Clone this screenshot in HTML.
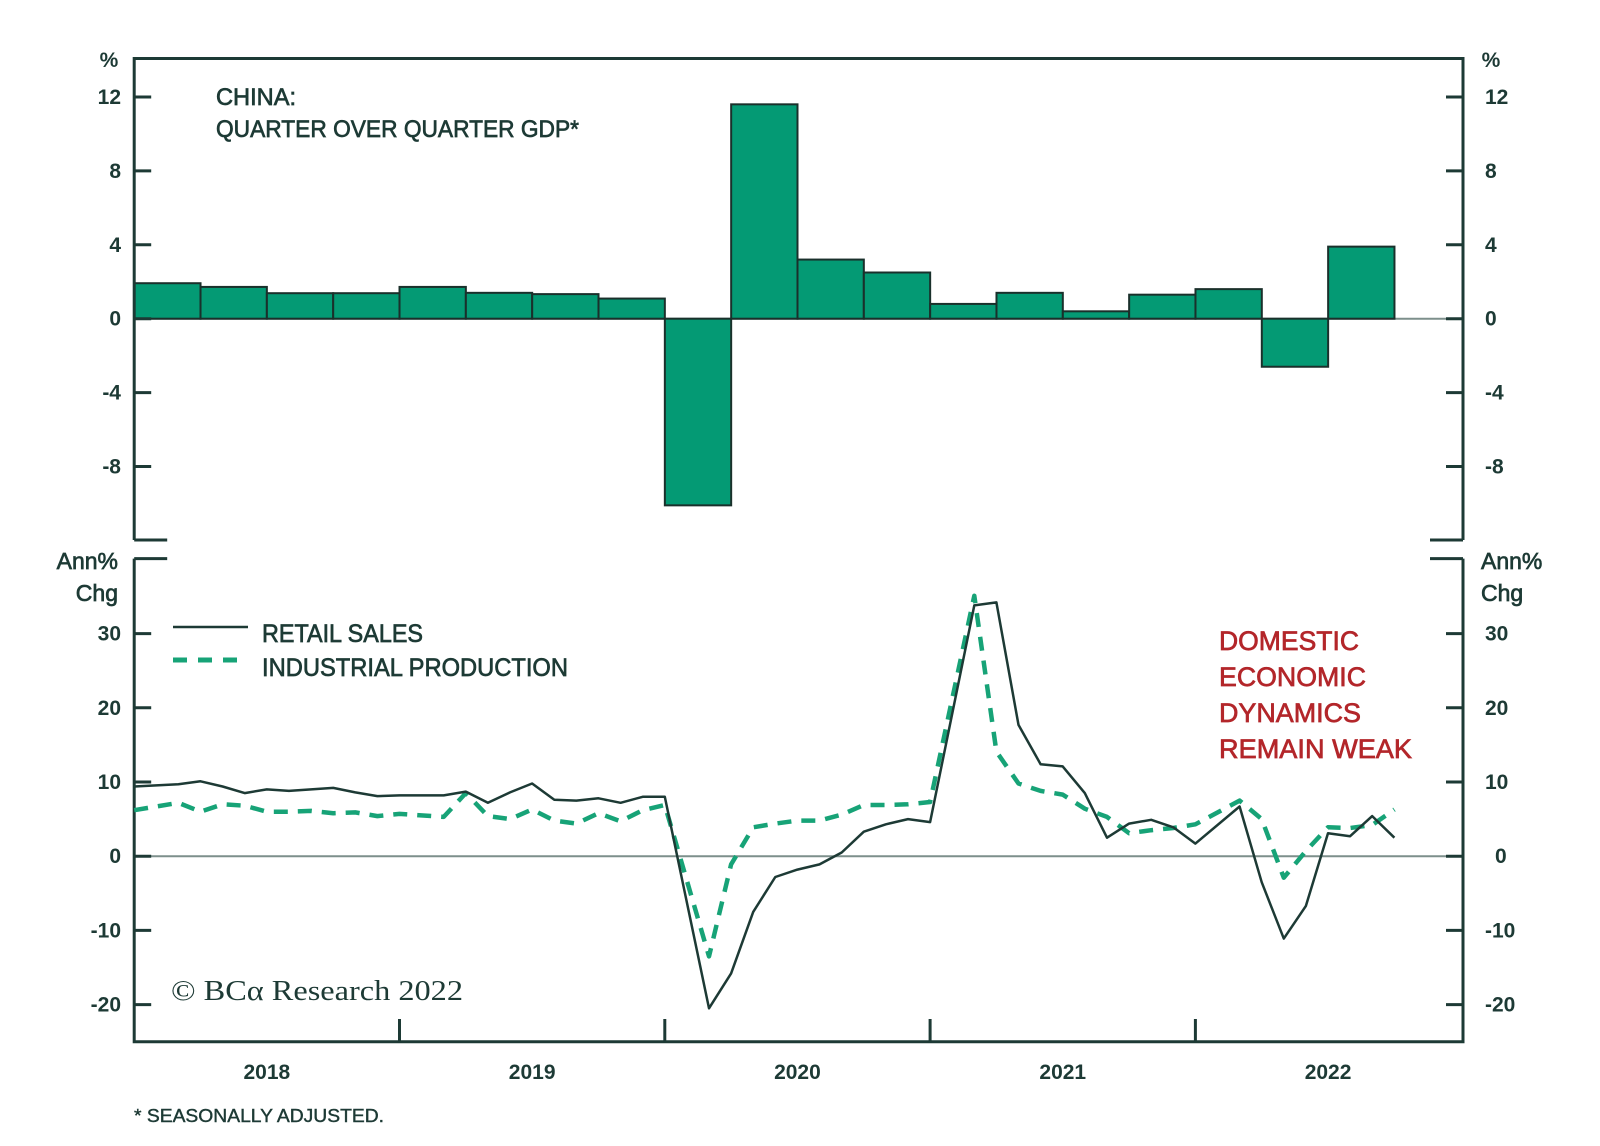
<!DOCTYPE html>
<html><head><meta charset="utf-8">
<style>
html,body{margin:0;padding:0;background:#fff;}
svg{display:block;}
text{font-family:"Liberation Sans",sans-serif;fill:#1d3a35;}
.t{font-size:21px;font-weight:bold;}
.m{stroke:#1d3a35;stroke-width:0.7;}
.r{fill:#b3262a;stroke:#b3262a;stroke-width:0.7;}
</style></head>
<body>
<svg id="s" width="1600" height="1146" viewBox="0 0 1600 1146" xmlns="http://www.w3.org/2000/svg">
<g id="g"></g>
<text x="109" y="67" class="t" text-anchor="middle">%</text>
<text x="1491" y="67" class="t" text-anchor="middle">%</text>
<text x="216" y="105" font-size="24" class="m" textLength="80" lengthAdjust="spacingAndGlyphs">CHINA:</text>
<text x="216" y="137" font-size="24" class="m" textLength="363" lengthAdjust="spacingAndGlyphs">QUARTER OVER QUARTER GDP*</text>
<text x="118" y="569" font-size="23" class="m" text-anchor="end">Ann%</text>
<text x="118" y="601" font-size="23" class="m" text-anchor="end">Chg</text>
<text x="1481" y="569" font-size="23" class="m">Ann%</text>
<text x="1481" y="601" font-size="23" class="m">Chg</text>
<line x1="173" y1="627" x2="248" y2="627" stroke="#1d3a35" stroke-width="2.5"/>
<line x1="173" y1="660" x2="248" y2="660" stroke="#17a377" stroke-width="5" stroke-dasharray="14,11"/>
<text x="262" y="642" font-size="25" class="m" textLength="161" lengthAdjust="spacingAndGlyphs">RETAIL SALES</text>
<text x="262" y="676" font-size="25" class="m" textLength="306" lengthAdjust="spacingAndGlyphs">INDUSTRIAL PRODUCTION</text>
<g font-size="27">
<text x="1219" y="650" class="r" textLength="140" lengthAdjust="spacingAndGlyphs">DOMESTIC</text>
<text x="1219" y="686" class="r" textLength="147" lengthAdjust="spacingAndGlyphs">ECONOMIC</text>
<text x="1219" y="722" class="r" textLength="142" lengthAdjust="spacingAndGlyphs">DYNAMICS</text>
<text x="1219" y="758" class="r" textLength="193" lengthAdjust="spacingAndGlyphs">REMAIN WEAK</text>
</g>
<text x="171" y="1000" font-size="28" style="font-family:'Liberation Serif',serif" textLength="292" lengthAdjust="spacingAndGlyphs">© BCα Research 2022</text>
<text x="134" y="1122" font-size="18" class="m" style="stroke-width:0.4" textLength="250" lengthAdjust="spacingAndGlyphs">* SEASONALLY ADJUSTED.</text>
</svg>
<script>
var NS="http://www.w3.org/2000/svg",g=document.getElementById("g");
function el(n,a,txt){var e=document.createElementNS(NS,n);for(var k in a)e.setAttribute(k,a[k]);if(txt!==undefined)e.textContent=txt;g.appendChild(e);return e;}
var L=134.2,R=1463,DK="#1d3a35";
var yt=function(v){return 318.7-18.48*v;};
var yb=function(v){return 856.2-7.42*v;};
var xm=function(t){return L+22.108*t;};
el("line",{x1:L,y1:yt(0),x2:R,y2:yt(0),stroke:"#7d8f8b","stroke-width":2});
el("line",{x1:L,y1:yb(0),x2:R,y2:yb(0),stroke:"#7d8f8b","stroke-width":2});
var bars=[1.92,1.72,1.38,1.38,1.72,1.4,1.33,1.09,-10.1,11.6,3.2,2.5,0.8,1.4,0.4,1.3,1.6,-2.6,3.9];
var bw=66.33;
bars.forEach(function(v,i){var y0=yt(0),y1=yt(v);el("rect",{x:L+i*bw,y:Math.min(y0,y1),width:bw,height:Math.abs(y1-y0),fill:"#049a74",stroke:"#1a302b","stroke-width":2});});
var sw=3;
el("path",{d:"M"+L+" 540 L"+L+" 58.5 L"+R+" 58.5 L"+R+" 540",fill:"none",stroke:DK,"stroke-width":sw});
el("line",{x1:L,y1:540,x2:L+33,y2:540,stroke:DK,"stroke-width":sw});
el("line",{x1:R-33,y1:540,x2:R,y2:540,stroke:DK,"stroke-width":sw});
el("path",{d:"M"+L+" 558.6 L"+L+" 1041.7 L"+R+" 1041.7 L"+R+" 558.6",fill:"none",stroke:DK,"stroke-width":sw});
el("line",{x1:L,y1:558.6,x2:L+33,y2:558.6,stroke:DK,"stroke-width":sw});
el("line",{x1:R-33,y1:558.6,x2:R,y2:558.6,stroke:DK,"stroke-width":sw});
[12,8,4,0,-4,-8].forEach(function(v){var y=yt(v);
 el("line",{x1:L,y1:y,x2:L+17,y2:y,stroke:DK,"stroke-width":sw});
 el("line",{x1:R-17,y1:y,x2:R,y2:y,stroke:DK,"stroke-width":sw});
 el("text",{x:121,y:y+7,"class":"t","text-anchor":"end"},String(v));
 el("text",{x:1485,y:y+7,"class":"t"},String(v));});
[30,20,10,0,-10,-20].forEach(function(v){var y=yb(v);
 el("line",{x1:L,y1:y,x2:L+17,y2:y,stroke:DK,"stroke-width":sw});
 el("line",{x1:R-17,y1:y,x2:R,y2:y,stroke:DK,"stroke-width":sw});
 el("text",{x:121,y:y+7,"class":"t","text-anchor":"end"},String(v));
 el("text",{x:1485+(v==0?10:0),y:y+7,"class":"t"},String(v));});
var yw=265.3;
for(var k=1;k<=4;k++){var x=L+yw*k;el("line",{x1:x,y1:1019,x2:x,y2:1041.7,stroke:DK,"stroke-width":sw});}
["2018","2019","2020","2021","2022"].forEach(function(s,k){el("text",{x:L+yw*(k+0.5),y:1079,"class":"t","text-anchor":"middle"},s);});
var rs=[[0,9.4],[2,9.7],[3,10.1],[4,9.4],[5,8.5],[6,9.0],[7,8.8],[8,9.0],[9,9.2],[10,8.6],[11,8.1],[12,8.2],[14,8.2],[15,8.7],[16,7.2],[17,8.6],[18,9.8],[19,7.6],[20,7.5],[21,7.8],[22,7.2],[23,8.0],[24,8.0],[26,-20.5],[27,-15.8],[28,-7.5],[29,-2.8],[30,-1.8],[31,-1.1],[32,0.5],[33,3.3],[34,4.3],[35,5.0],[36,4.6],[38,33.8],[39,34.2],[40,17.7],[41,12.4],[42,12.1],[43,8.5],[44,2.5],[45,4.4],[46,4.9],[47,3.9],[48,1.7],[50,6.7],[51,-3.5],[52,-11.1],[53,-6.7],[54,3.1],[55,2.7],[56,5.4],[57,2.5]];
var ip=[[0,6.2],[2,7.2],[3,6.0],[4,7.0],[5,6.8],[6,6.0],[7,6.0],[8,6.1],[9,5.8],[10,5.9],[11,5.4],[12,5.7],[14,5.3],[15,8.5],[16,5.4],[17,5.0],[18,6.3],[19,4.8],[20,4.4],[21,5.8],[22,4.7],[23,6.2],[24,6.9],[26,-13.5],[27,-1.1],[28,3.9],[29,4.4],[30,4.8],[31,4.8],[32,5.6],[33,6.9],[34,6.9],[35,7.0],[36,7.3],[38,35.1],[39,14.1],[40,9.8],[41,8.8],[42,8.3],[43,6.4],[44,5.3],[45,3.1],[46,3.5],[47,3.8],[48,4.3],[50,7.5],[51,5.0],[52,-2.9],[53,0.7],[54,3.9],[55,3.8],[56,4.2],[57,6.3]];
function pts(a){return a.map(function(p){return xm(p[0]).toFixed(1)+","+yb(p[1]).toFixed(1);}).join(" ");}
el("polyline",{points:pts(ip),fill:"none",stroke:"#17a377","stroke-width":4.5,"stroke-dasharray":"14,10","stroke-linejoin":"round"});
el("polyline",{points:pts(rs),fill:"none",stroke:DK,"stroke-width":2.5,"stroke-linejoin":"round"});
</script>
</body></html>
